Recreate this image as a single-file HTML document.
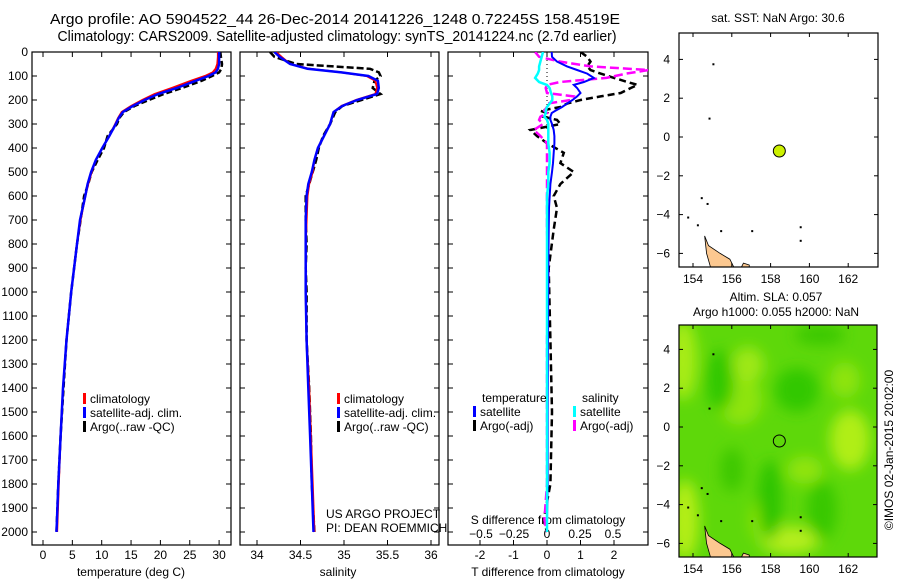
<!DOCTYPE html>
<html><head><meta charset="utf-8">
<style>
html,body{margin:0;padding:0;background:#fff;}
svg{display:block;font-family:"Liberation Sans",sans-serif;}
text{font-size:12px;fill:#000;}
</style></head>
<body>
<svg id="fig" width="900" height="580" viewBox="0 0 900 580" xmlns="http://www.w3.org/2000/svg">
<defs>
<clipPath id="c1"><rect x="32" y="52" width="199" height="493"/></clipPath>
<clipPath id="c2"><rect x="240" y="52" width="199" height="493"/></clipPath>
<clipPath id="c3"><rect x="448" y="52" width="200" height="493"/></clipPath>
<clipPath id="cm1"><rect x="679" y="33" width="199" height="234"/></clipPath>
<clipPath id="cm2"><rect x="679" y="325" width="198" height="232"/></clipPath>
<filter id="blur" x="-20%" y="-20%" width="140%" height="140%"><feGaussianBlur stdDeviation="7"/></filter>
</defs>
<text x="335" y="24" text-anchor="middle" textLength="570" lengthAdjust="spacingAndGlyphs" style="font-size:14.5px">Argo profile: AO 5904522_44 26-Dec-2014 20141226_1248 0.72245S 158.4519E</text>
<text x="337" y="41" text-anchor="middle" textLength="559" lengthAdjust="spacingAndGlyphs" style="font-size:14.5px">Climatology: CARS2009. Satellite-adjusted climatology: synTS_20141224.nc (2.7d earlier)</text>
<g id="g1"></g>
<g id="g2"></g>
<g id="g3"></g>
<g id="m1"></g>
<g id="m2"></g>
<text transform="translate(893,450) rotate(-90)" text-anchor="middle">©IMOS 02-Jan-2015 20:02:00</text>
</svg>
<script>
// ---- data ----
const depthTicks=[0,100,200,300,400,500,600,700,800,900,1000,1100,1200,1300,1400,1500,1600,1700,1800,1900,2000];
const tempTicks=[0,5,10,15,20,25,30];
const salTicks=[34,34.5,35,35.5,36];
const tdiffTicks=[-2,-1,0,1,2];
const sdiffTicks=[-0.5,-0.25,0,0.25,0.5];
const lonTicks=[154,156,158,160,162];
const latTicks=[4,2,0,-2,-4,-6];
const depths=[0,20,50,70,85,100,120,150,175,200,225,250,275,300,350,400,450,500,550,600,700,800,900,1000,1200,1400,1600,1800,2000];
const tempClim=[29.8,29.8,29.7,29.4,28.9,27.6,25.2,21.9,19.0,16.9,15.0,13.4,12.8,12.3,11.3,10.1,9.0,8.3,7.7,7.2,6.4,5.8,5.3,4.8,4.0,3.4,3.0,2.7,2.4];
const tempSat=[30.0,30.0,30.0,29.8,29.4,28.2,26.0,22.8,19.6,17.3,15.3,13.6,12.9,12.4,11.3,10.1,9.0,8.2,7.6,7.2,6.3,5.8,5.3,4.8,4.0,3.4,3.0,2.6,2.3];
const tempArgo=[30.2,30.3,30.5,30.4,30.0,28.8,27.0,23.7,20.6,18.0,15.6,13.8,13.0,12.6,11.0,10.4,9.3,8.3,7.7,7.0,6.4,5.8,5.3,4.8,4.0,3.5,3.0,2.6,2.3];
const salClim=[34.22,34.28,34.38,34.6,34.97,35.26,35.36,35.38,35.36,35.14,34.97,34.88,34.86,34.84,34.77,34.7,34.66,34.64,34.6,34.58,34.57,34.56,34.56,34.56,34.57,34.6,34.62,34.64,34.66];
const salSat=[34.2,34.26,34.38,34.58,34.97,35.28,35.39,35.4,35.38,35.15,34.98,34.88,34.86,34.84,34.77,34.7,34.66,34.63,34.59,34.57,34.56,34.56,34.56,34.56,34.57,34.59,34.61,34.63,34.65];
const salArgo=[34.15,34.2,34.45,35.3,35.4,35.42,35.35,35.33,35.42,35.2,34.98,34.9,34.87,34.84,34.76,34.71,34.68,34.64,34.6,34.56,34.56,34.57,34.56,34.57,34.57,34.6,34.62,34.63,34.66];
const diffDepths=[0,20,40,60,75,90,108,125,137,150,171,185,200,215,229,245,254,270,283,300,325,350,380,420,463,500,550,600,650,740,900,1200,1500,1800,1950,2000];
const tdSat=[0.14,0.15,0.3,0.6,0.9,1.2,1.4,1.1,0.8,0.9,1.0,0.9,0.76,0.6,0.45,0.25,0.14,0.1,0.1,0.15,0.2,0.22,0.22,0.2,0.18,0.15,0.1,0.08,0.06,0.05,0.04,0.03,0.02,0.02,0.0,0.0];
const tdArgo=[1.0,1.2,1.3,1.2,1.3,1.6,2.0,2.4,2.7,2.5,2.2,1.6,1.0,0.6,0.4,-0.2,0.0,-0.1,0.3,0.4,-0.5,-0.3,0.0,0.5,0.4,0.8,0.4,0.2,0.3,0.2,0.05,0.1,0.15,0.1,-0.1,0.0];
const sdSat=[-0.03,-0.04,-0.05,-0.06,-0.06,-0.07,-0.09,-0.06,0.0,0.02,0.03,0.04,0.04,0.02,0.0,-0.01,-0.01,-0.02,0.0,0.01,0.01,0.01,0.01,0.02,0.02,0.01,0.01,0.0,0.0,0.0,0.0,0.0,0.0,0.0,0.0,0.0];
const sdArgo=[-0.09,-0.06,0.1,0.33,0.77,0.6,0.45,0.1,0.0,-0.01,0.0,0.2,0.18,0.0,0.0,-0.02,0.0,-0.05,-0.06,-0.03,-0.1,-0.05,0.0,0.0,0.0,0.0,0.0,0.0,0.0,0.0,0.01,0.0,0.0,0.0,-0.02,0.0];
const argoLon=[158.45];
const argoLat=[-0.72];
// ---- helpers ----
const NS="http://www.w3.org/2000/svg";
function mk(parent,tag,attrs){const e=document.createElementNS(NS,tag);for(const k in attrs)e.setAttribute(k,attrs[k]);parent.appendChild(e);return e;}
const yD=d=>52+d*0.24;
function frame(g,x0,x1,y0,y1){
  const r=mk(g,'rect',{x:x0,y:y0,width:x1-x0,height:y1-y0,fill:'none',stroke:'#000','stroke-width':1.2});
  
  
}
function xTicks(g,vals,fx,y0,y1,ly,fmt){
  vals.forEach(v=>{const x=fx(v);
    mk(g,'line',{x1:x,x2:x,y1:y1,y2:y1-5,stroke:'#000'});
    if(y0!==null)mk(g,'line',{x1:x,x2:x,y1:y0,y2:y0+5,stroke:'#000'});
    if(ly){const t=mk(g,'text',{x:x,y:ly,'text-anchor':'middle'});t.textContent=fmt?fmt(v):v;
      
      }
  });
}
function yTicksDepth(g,x0,x1,labels){
  depthTicks.forEach(d=>{const y=yD(d);
    mk(g,'line',{x1:x0,x2:x0+5,y1:y,y2:y,stroke:'#000'});
    mk(g,'line',{x1:x1,x2:x1-5,y1:y,y2:y,stroke:'#000'});
    if(labels){const t=mk(g,'text',{x:x0-4,y:y+4,'text-anchor':'end'});t.textContent=d;
      
      }
  });
}
function line(g,xs,ds,fx,color,w,dash,name,clip){
  const pts=xs.map((v,i)=>fx(v).toFixed(1)+','+yD(ds[i]).toFixed(1)).join(' ');
  const p=mk(g,'polyline',{points:pts,fill:'none',stroke:color,'stroke-width':w,'clip-path':'url(#'+clip+')'});
  if(dash)p.setAttribute('stroke-dasharray',dash);
  
  
}
function legend(g,x,y,items){
  items.forEach((it,i)=>{
    mk(g,'rect',{x:x,y:y+i*14-10,width:3,height:11,fill:it[1]});
    const t=mk(g,'text',{x:x+7,y:y+i*14});t.textContent=it[0];
    
    
  });
}
function label(g,x,y,s,anchor,name){const t=mk(g,'text',{x:x,y:y,'text-anchor':anchor||'start'});t.textContent=s;
  
  return t;}
// ---- panel 1 ----
const g1=document.getElementById('g1');
const fT=v=>43+v*5.87;
frame(g1,32,231,52,545);yTicksDepth(g1,32,231,true);
xTicks(g1,tempTicks,fT,52,545,559);
line(g1,tempArgo,depths,fT,'#000',2.5,'6,3','argo-temperature-line','c1');
line(g1,tempClim,depths,fT,'#f00',2,null,'climatology-temperature-line','c1');
line(g1,tempSat,depths,fT,'#00f',2.5,null,'satellite-temperature-line','c1');
legend(g1,83,403,[['climatology','#f00'],['satellite-adj. clim.','#00f'],['Argo(..raw -QC)','#000']]);
label(g1,131,576,'temperature (deg C)','middle','x-axis-title-temperature');
// ---- panel 2 ----
const g2=document.getElementById('g2');
const fS=v=>257+(v-34)*87;
frame(g2,240,439,52,545);yTicksDepth(g2,240,439,false);
xTicks(g2,salTicks,fS,52,545,559);
line(g2,salArgo,depths,fS,'#000',2.5,'7,3','argo-salinity-line','c2');
line(g2,salClim,depths,fS,'#f00',2,null,'climatology-salinity-line','c2');
line(g2,salSat,depths,fS,'#00f',2.5,null,'satellite-salinity-line','c2');
legend(g2,337,403,[['climatology','#f00'],['satellite-adj. clim.','#00f'],['Argo(..raw -QC)','#000']]);
label(g2,326,518,'US ARGO PROJECT','start','credit-project');
label(g2,326,532,'PI: DEAN ROEMMICH','start','credit-pi');
label(g2,338,576,'salinity','middle','x-axis-title-salinity');
// ---- panel 3 ----
const g3=document.getElementById('g3');
const fTd=v=>547+v*33.5;const fSd=v=>547+v*132;
frame(g3,448,648,52,545);yTicksDepth(g3,448,648,false);
xTicks(g3,tdiffTicks,fTd,52,545,559);
sdiffTicks.forEach(v=>{const t=label(g3,fSd(v),538,String(v).replace('-','\u2212'),'middle','s-diff-tick-label');});
label(g3,548,524,'S difference from climatology','middle','s-diff-axis-title');
label(g3,548,576,'T difference from climatology','middle','t-diff-axis-title');
mk(g3,'line',{x1:547,x2:547,y1:52,y2:130,stroke:'#000','stroke-dasharray':'1,3'});
line(g3,tdArgo,diffDepths,fTd,'#000',2.5,'7,4','argo-t-diff-line','c3');
line(g3,sdArgo,diffDepths,fSd,'#f0f',2.5,'9,4','argo-s-diff-line','c3');
line(g3,tdSat,diffDepths,fTd,'#00f',2,null,'satellite-t-diff-line','c3');
line(g3,sdSat,diffDepths,fSd,'#0ff',2.5,null,'satellite-s-diff-line','c3');
label(g3,482,402,'temperature','start','legend-header-temperature');
label(g3,582,402,'salinity','start','legend-header-salinity');
legend(g3,473,416,[['satellite','#00f'],['Argo(-adj)','#000']]);
legend(g3,573,416,[['satellite','#0ff'],['Argo(-adj)','#f0f']]);
// ---- maps ----
function map(g,x0,x1,y0,y1,lat0y,clip,green){
  const fx=v=>693+(v-154)*19.4, fy=v=>lat0y-v*19.4;
  if(green){
    const gg=mk(g,'g',{'clip-path':'url(#'+clip+')'});
    mk(gg,'rect',{x:x0,y:y0,width:x1-x0,height:y1-y0,fill:'#5ed80a'});
    const bl=mk(gg,'g',{filter:'url(#blur)'});
    [[683,360,14,40,'#a8ec14'],[685,520,14,40,'#b4ee18'],[740,400,22,25,'#8ee410'],[748,365,16,18,'#9ee812'],[850,440,20,30,'#b0ee16'],[845,380,15,18,'#8ee410'],[790,540,30,14,'#b4ee1a'],[760,520,10,20,'#8ee410'],[805,470,18,14,'#90e410']].forEach(b=>mk(bl,'ellipse',{cx:b[0],cy:b[1],rx:b[2],ry:b[3],fill:b[4]}));
    [[720,380,14,30,'#30c800'],[797,390,22,22,'#30c800'],[770,500,12,40,'#2ec400'],[822,510,15,30,'#38c800'],[820,335,25,10,'#3ac800'],[732,470,12,22,'#3ec800']].forEach(b=>mk(bl,'ellipse',{cx:b[0],cy:b[1],rx:b[2],ry:b[3],fill:b[4]}));
  }
  const land=mk(g,'path',{d:`M${fx(154.6)} ${fy(-5.1)} L${fx(154.8)} ${fy(-5.6)} L${fx(155.4)} ${fy(-6.0)} L${fx(155.9)} ${fy(-6.3)} L${fx(156.1)} ${fy(-6.7)} L${fx(154.9)} ${fy(-6.7)} L${fx(154.7)} ${fy(-6.0)} Z`,fill:'#fcc890',stroke:'#000','stroke-width':0.8,'clip-path':'url(#'+clip+')'});
  
  
  mk(g,'path',{d:`M${fx(156.5)} ${fy(-6.7)} L${fx(156.6)} ${fy(-6.5)} L${fx(156.9)} ${fy(-6.6)} L${fx(156.9)} ${fy(-6.7)} Z`,fill:'#fcc890',stroke:'#000','stroke-width':0.8,'clip-path':'url(#'+clip+')'});
  [[155.0,3.8],[154.8,1.0],[154.7,-3.4],[154.4,-3.1],[153.7,-4.1],[154.2,-4.5],[155.4,-4.8],[157.0,-4.8],[159.5,-4.6],[159.5,-5.3]].forEach(p=>mk(g,'rect',{x:fx(p[0]),y:fy(p[1]),width:2,height:2,fill:'#000'}));
  frame(g,x0,x1,y0,y1);
  lonTicks.forEach(v=>{const x=fx(v);mk(g,'line',{x1:x,x2:x,y1:y0,y2:y0+4,stroke:'#000'});mk(g,'line',{x1:x,x2:x,y1:y1,y2:y1-4,stroke:'#000'});
    label(g,x,y1+16,String(v),'middle','lon-tick-label');});
  latTicks.forEach(v=>{const y=fy(v);mk(g,'line',{x1:x0,x2:x0+4,y1:y,y2:y,stroke:'#000'});mk(g,'line',{x1:x1,x2:x1-4,y1:y,y2:y,stroke:'#000'});
    label(g,x0-9,y+4,String(v).replace('-','\u2212'),'end','lat-tick-label');});
  const c=mk(g,'circle',{cx:fx(argoLon[0]),cy:fy(argoLat[0]),r:6,fill:green?'none':'#ccf000',stroke:'#000','stroke-width':1});
  
  
}
const m1=document.getElementById('m1');
label(m1,778,22,'sat. SST: NaN Argo: 30.6','middle','sst-map-title');
map(m1,679,878,33,267,137,'cm1',false);
const m2=document.getElementById('m2');
label(m2,776,301,'Altim. SLA: 0.057','middle','sla-map-title');
label(m2,776,316,'Argo h1000: 0.055 h2000: NaN','middle','sla-map-subtitle');
map(m2,679,877,325,557,427,'cm2',true);
</script>
</body></html>
